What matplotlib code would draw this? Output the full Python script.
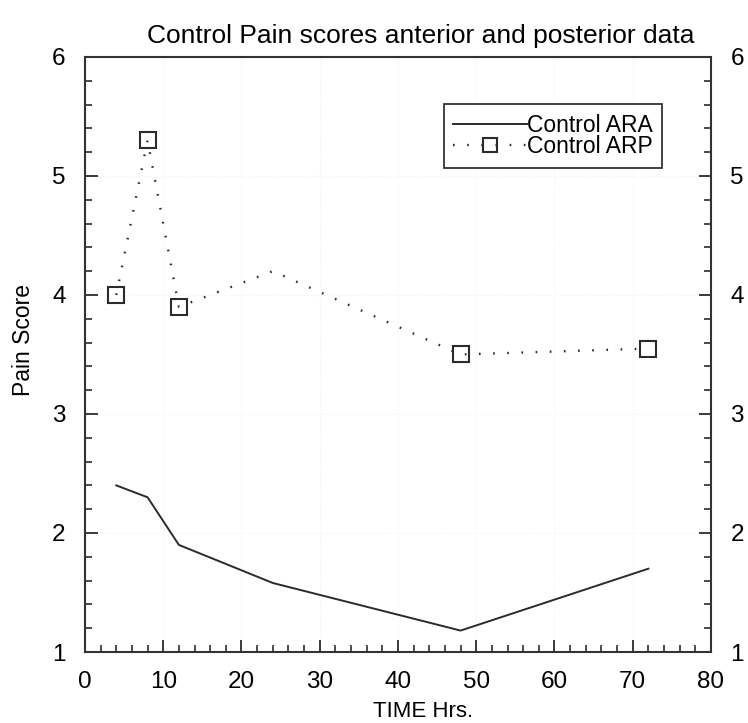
import numpy as np
import matplotlib.pyplot as plt
from matplotlib.ticker import MultipleLocator

plt.rcParams['font.family'] = ['Liberation Sans', 'DejaVu Sans']

hours = [4, 8, 12, 24, 48, 72]
ara = [2.4, 2.3, 1.9, 1.58, 1.18, 1.7]
arp = [4.0, 5.3, 3.9, 4.2, 3.5, 3.55]
arp_marked = [0, 1, 2, 4, 5]  # no marker drawn at 24 h in the original

fig = plt.figure(figsize=(7.48, 7.23), dpi=100)
ax = fig.add_axes([0.1136, 0.0982, 0.8369, 0.823])

col = '#2b2b2b'
ax.plot(hours, ara, color=col, lw=1.4, label="Control ARA")
ax.plot(hours, arp, color=col, lw=1.7, ls=(0, (0.7, 5.3)),
        marker='s', ms=12, mfc='none', mec=col, mew=1.5,
        markevery=arp_marked, label="Control ARP")

ax.set_xlim(0, 80)
ax.set_ylim(1, 6)
ax.xaxis.set_major_locator(MultipleLocator(10))
ax.xaxis.set_minor_locator(MultipleLocator(2))
ax.yaxis.set_major_locator(MultipleLocator(1))
ax.yaxis.set_minor_locator(MultipleLocator(0.2))
ax.tick_params(which='both', direction='in', right=True, labelright=True,
               top=False, color=col, labelsize=17.5)
ax.tick_params(axis='y', which='major', pad=14)
ax.tick_params(axis='x', which='major', pad=14)
ax.tick_params(which='major', length=9, width=1.3)
ax.tick_params(which='minor', length=5, width=1.2)
for s in ax.spines.values():
    s.set_linewidth(1.5)
    s.set_color('#333333')

ax.grid(which='major', color='#f2f2f2', ls=':', lw=0.8)

ax.set_title("Control Pain scores anterior and posterior data", fontsize=19,
             pad=10, x=0.537)
ax.set_xlabel("TIME Hrs.", fontsize=16)
ax.xaxis.set_label_coords(0.54, -0.082)
ax.set_ylabel("Pain Score", fontsize=16.5)
ax.yaxis.set_label_coords(-0.08, 0.525)

leg = ax.legend(loc='upper right', bbox_to_anchor=(0.9217, 0.921), fontsize=16.5,
                handlelength=3.2, handletextpad=0.0, borderpad=0.42,
                borderaxespad=0, labelspacing=-0.05, fancybox=False,
                framealpha=1, markerscale=0.8)
leg.get_frame().set_edgecolor('#333333')
leg.get_frame().set_linewidth(1.3)

fig.savefig("out.png", dpi=100)
